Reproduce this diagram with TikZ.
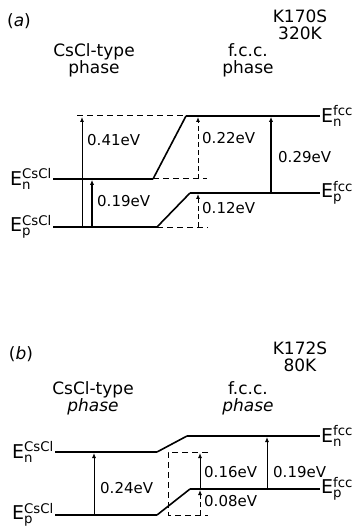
\documentclass[tikz,border=0pt]{standalone}
\usepackage{amsmath}
\usepackage{fontspec}
\setmainfont{DejaVu Sans}
\usepackage{tikz}
\usetikzlibrary{positioning,arrows.meta}
\newcommand{\lev}[2]{E$_{\text{#1}}^{\text{#2}}$}

\begin{document}
\begin{tikzpicture}[
  x=1pt, y=-1pt,
  font=\fontsize{15}{17}\selectfont,
  level/.style={line width=2.6pt},
  slope/.style={line width=1.6pt},
  guide/.style={dashed, line width=1pt, dash pattern=on 6pt off 4pt},
  gap/.style={-{Latex[length=5pt,width=4pt]}, line width=0.9pt},
  biggap/.style={-{Latex[length=5pt,width=4.5pt]}, line width=1.8pt},
  dgap/.style={-{Latex[length=5pt,width=4pt]}, line width=0.9pt, dash pattern=on 5pt off 3pt},
  val/.style={anchor=west, inner sep=1pt},
  head/.style={align=center, font=\fontsize{17}{17}\selectfont, inner sep=0pt},
  elab/.style={inner sep=1pt, font=\fontsize{19}{21}\selectfont}
]
\useasboundingbox (0,0) rectangle (356,529);
% ---------- panel (a) ----------
\node[head] (atag)   at (19,21)  {(\textit{a})};
\node[head] (asamp)  at (300,25) {K170S\\320K};
\node[head] (acscl)  at (94,60)  {CsCl-type\\phase};
\node[head] (afcc)   at (248,60) {f.c.c.\\phase};
% level points
\coordinate (aNl) at (53,179);  \coordinate (aNm) at (153,179);
\coordinate (aNf) at (186,116); \coordinate (aNr) at (320,116);
\coordinate (aPl) at (53,227);  \coordinate (aPm) at (157,227);
\coordinate (aPf) at (190,193); \coordinate (aPr) at (320,193);
\coordinate (aTl) at (77,116);  \coordinate (aNd) at (207,179);
\coordinate (aPd) at (208,227);
% levels
\draw[level] (aNl) -- (aNm);
\draw[slope] (aNm) -- (aNf);
\draw[level] (aNf) -- (aNr);
\draw[level] (aPl) -- (aPm);
\draw[slope] (aPm) -- (aPf);
\draw[level] (aPf) -- (aPr);
\draw[guide] (aTl) -- (aNf);
\draw[guide] (aNm) -- (aNd);
\draw[guide] (aPm) -- (aPd);
% gaps
\coordinate (a1b) at (82,227);  \coordinate (a1t) at (82,117);
\coordinate (a2b) at (92,227);  \coordinate (a2t) at (92,180);
\coordinate (a3b) at (198,179); \coordinate (a3t) at (198,117);
\coordinate (a4b) at (198,227); \coordinate (a4t) at (198,194);
\coordinate (a5b) at (271,193); \coordinate (a5t) at (271,117);
\draw[gap]    (a1b) -- (a1t);
\draw[biggap] (a2b) -- (a2t);
\draw[dgap]   (a3b) -- (a3t);
\draw[dgap]   (a4b) -- (a4t);
\draw[biggap] (a5b) -- (a5t);
\node[val] (av1) at (86,140)  {0.41eV};
\node[val] (av2) at (96,201)  {0.19eV};
\node[val] (av3) at (201,138) {0.22eV};
\node[val] (av4) at (201,208) {0.12eV};
\node[val] (av5) at (277,157) {0.29eV};
% level names
\node[elab, anchor=east] (aEnc) at (aNl) {\lev{n}{CsCl}};
\node[elab, anchor=east] (aEpc) at (aPl) {\lev{p}{CsCl}};
\node[elab, anchor=west] (aEnf) at (aNr) {\lev{n}{fcc}};
\node[elab, anchor=west] (aEpf) at (aPr) {\lev{p}{fcc}};
% ---------- panel (b) ----------
\node[head] (btag)   at (21,354)  {(\textit{b})};
\node[head] (bsamp)  at (300,357) {K172S\\80K};
\node[head] (bcscl)  at (93,398)  {CsCl-type\\\textit{phase}};
\node[head] (bfcc)   at (248,398) {f.c.c.\\\textit{phase}};
% level points
\coordinate (bNl) at (55,452);  \coordinate (bNm) at (157,452);
\coordinate (bNf) at (187,436); \coordinate (bNr) at (320,436);
\coordinate (bPl) at (55,515);  \coordinate (bPm) at (157,515);
\coordinate (bPf) at (190,489); \coordinate (bPr) at (320,489);
\coordinate (bBtl) at (168,452); \coordinate (bBtr) at (208,452);
\coordinate (bBbl) at (168,515); \coordinate (bBbr) at (208,515);
% levels
\draw[level] (bNl) -- (bNm);
\draw[slope] (bNm) -- (bNf);
\draw[level] (bNf) -- (bNr);
\draw[level] (bPl) -- (bPm);
\draw[slope] (bPm) -- (bPf);
\draw[level] (bPf) -- (bPr);
\draw[guide] (bBtr) -- (bBtl) -- (bBbl) -- (bBbr);
% gaps
\coordinate (b1b) at (94,515);  \coordinate (b1t) at (94,453);
\coordinate (b2b) at (200,489); \coordinate (b2t) at (200,453);
\coordinate (b3b) at (200,515); \coordinate (b3t) at (200,490);
\coordinate (b4b) at (267,489); \coordinate (b4t) at (267,437);
\draw[gap]  (b1b) -- (b1t);
\draw[gap]  (b2b) -- (b2t);
\draw[dgap] (b3b) -- (b3t);
\draw[gap]  (b4b) -- (b4t);
\node[val] (bv1) at (99,488)  {0.24eV};
\node[val] (bv2) at (203,472) {0.16eV};
\node[val] (bv3) at (203,501) {0.08eV};
\node[val] (bv4) at (272,472) {0.19eV};
% level names
\node[elab, anchor=east] (bEnc) at (bNl) {\lev{n}{CsCl}};
\node[elab, anchor=east] (bEpc) at (bPl) {\lev{p}{CsCl}};
\node[elab, anchor=west] (bEnf) at (bNr) {\lev{n}{fcc}};
\node[elab, anchor=west] (bEpf) at (bPr) {\lev{p}{fcc}};
\end{tikzpicture}
\end{document}
